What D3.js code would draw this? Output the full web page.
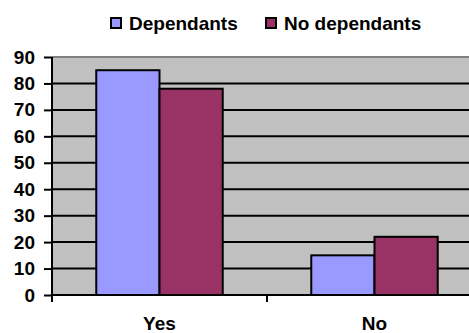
<!DOCTYPE html>
<html>
<head>
<meta charset="utf-8">
<script src="https://cdn.jsdelivr.net/npm/d3@7"></script>
<style>
  body { margin: 0; background: #fff; }
  svg { display: block; font-family: "Liberation Sans", Arial, sans-serif; font-weight: bold; }
</style>
</head>
<body>
<div id="chart"></div>
<script>
// data
const categories = ["Yes", "No"];
const seriesNames = ["Dependants", "No dependants"];
const dependants = [85, 15];
const noDependants = [78, 22];
const yTicks = [0, 10, 20, 30, 40, 50, 60, 70, 80, 90];

const colors = ["#9999FF", "#993366"];
const FS = 19;

const W = 469, H = 333;
const margin = { top: 57, right: -13, bottom: 38, left: 52 };
const width = W - margin.left - margin.right,
  height = H - margin.top - margin.bottom;

const svg = d3.select("#chart").append("svg")
  .attr("width", W)
  .attr("height", H);

const g = svg.append("g")
  .attr("transform", `translate(${margin.left},${margin.top})`);

const x = d3.scaleBand().domain(categories).range([0, width]);
const x1 = d3.scaleBand().domain(seriesNames).range([0, x.bandwidth()]).paddingOuter(0.7).paddingInner(0);
const y = d3.scaleLinear().domain([0, 90]).range([height, 0]);

// plot background
g.append("rect")
  .attr("width", width)
  .attr("height", height)
  .attr("fill", "#C0C0C0");

// grid lines
g.selectAll(".grid")
  .data(yTicks.filter(t => t > 0 && t < 90))
  .enter().append("line")
  .attr("x1", 0).attr("x2", width)
  .attr("y1", d => y(d)).attr("y2", d => y(d))
  .attr("stroke", "#000").attr("stroke-width", 2);

// top border
g.append("line")
  .attr("x1", 0).attr("x2", width)
  .attr("y1", 0).attr("y2", 0)
  .attr("stroke", "#808080").attr("stroke-width", 2);

// bars
const rows = categories.map((c, i) => ({ cat: c, vals: [dependants[i], noDependants[i]] }));
g.selectAll(".grp")
  .data(rows)
  .enter().append("g")
  .attr("transform", d => `translate(${x(d.cat)},0)`)
  .selectAll("rect")
  .data(d => d.vals.map((v, j) => ({ key: seriesNames[j], v, j })))
  .enter().append("rect")
  .attr("x", d => x1(d.key))
  .attr("width", x1.bandwidth())
  .attr("y", d => y(d.v))
  .attr("height", d => y(0) - y(d.v))
  .attr("fill", d => colors[d.j])
  .attr("stroke", "#000")
  .attr("stroke-width", 2);

// y axis
const yAxis = g.append("g")
  .call(d3.axisLeft(y).tickValues(yTicks).tickSize(8).tickPadding(9));
yAxis.select(".domain").attr("stroke", "#000").attr("stroke-width", 2).attr("d", `M0,${height + 1}V0`);
yAxis.selectAll(".tick line").attr("stroke-width", 2);
yAxis.selectAll("text").attr("font-size", FS).attr("font-weight", "bold").attr("fill", "#000").attr("font-family", "Liberation Sans, Arial, sans-serif");

// x axis
const xAxis = g.append("g").attr("transform", `translate(0,${height})`);
xAxis.append("line")
  .attr("x1", -1).attr("x2", width)
  .attr("stroke", "#000").attr("stroke-width", 2);
xAxis.selectAll(".xt")
  .data(categories.map(c => x(c)).concat([width]))
  .enter().append("line")
  .attr("x1", d => d).attr("x2", d => d)
  .attr("y1", 0).attr("y2", 7)
  .attr("stroke", "#000").attr("stroke-width", 2);
xAxis.selectAll(".xl")
  .data(categories)
  .enter().append("text")
  .attr("x", d => x(d) + x.bandwidth() / 2)
  .attr("y", 35)
  .attr("text-anchor", "middle")
  .attr("font-size", FS)
  .text(d => d);

// legend
const legendItems = [
  { label: seriesNames[0], color: colors[0], x: 111 },
  { label: seriesNames[1], color: colors[1], x: 266 }
];
const lg = svg.append("g").selectAll("g").data(legendItems).enter().append("g")
  .attr("transform", d => `translate(${d.x},18)`);
lg.append("rect")
  .attr("width", 10).attr("height", 10)
  .attr("fill", d => d.color)
  .attr("stroke", "#000").attr("stroke-width", 2);
lg.append("text")
  .attr("x", 18).attr("y", 12)
  .attr("font-size", FS)
  .text(d => d.label);
</script>
</body>
</html>
